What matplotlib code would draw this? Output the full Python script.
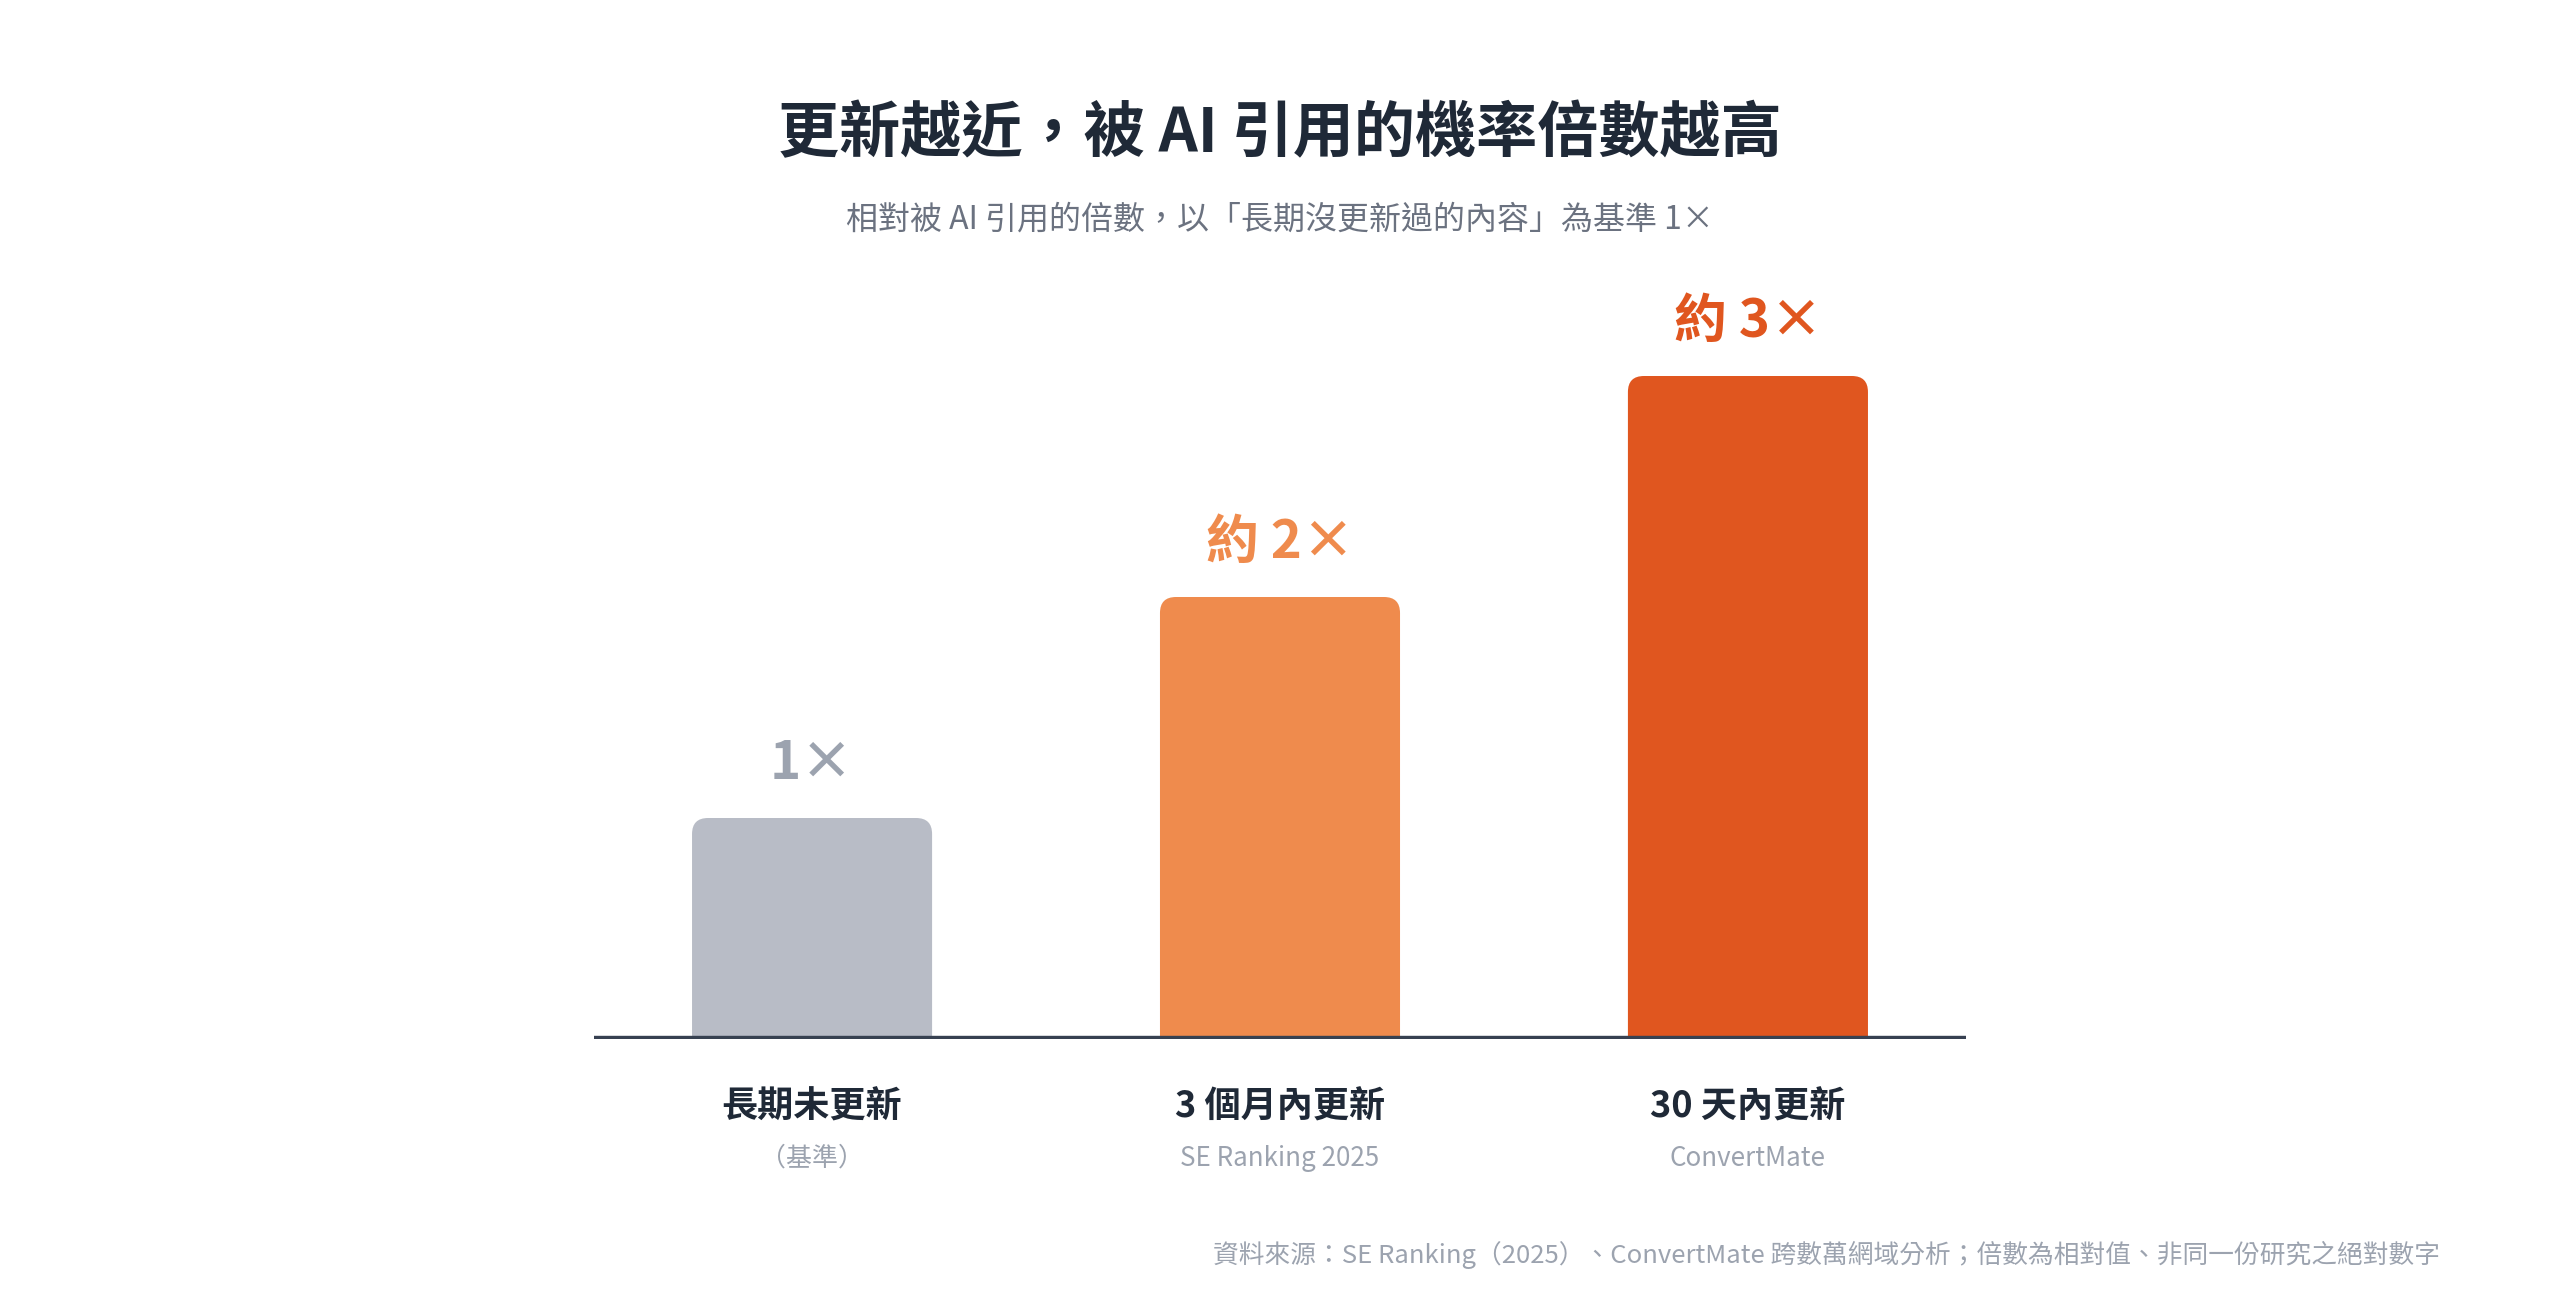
import matplotlib
matplotlib.use("Agg")
import matplotlib.pyplot as plt
from matplotlib.patches import FancyBboxPatch

plt.rcParams['font.family'] = ['Noto Sans CJK TC', 'DejaVu Sans']

# data
categories = ['長期未更新', '3 個月內更新', '30 天內更新']
sources = ['（基準）', 'SE Ranking 2025', 'ConvertMate']
multipliers = [1, 2, 3]
value_labels = ['1×', '約 2×', '約 3×']
bar_colors = ['#B8BCC6', '#EF8B4D', '#E0561F']
label_colors = ['#9CA3AF', '#EF8B4D', '#E0561F']

W, H, DPI = 2560, 1295, 100
fig = plt.figure(figsize=(W / DPI, H / DPI), dpi=DPI)
fig.patch.set_facecolor('white')

# axes placed so the baseline and bars line up with the reference
ax_left, ax_right = 594, 1966
ax_base, ylim_top = 1039, 3.6
px_per_y = 221
ax_h = ylim_top * px_per_y
ax = fig.add_axes([ax_left / W, (H - ax_base) / H, (ax_right - ax_left) / W, ax_h / H])
xlo, xhi = -0.466, 2.466
ax.set_xlim(xlo, xhi)
ax.set_ylim(0, ylim_top)
ax.axis('off')

x = list(range(len(categories)))
bars = ax.bar(x, multipliers, width=0.513, color=bar_colors)

# rounded top corners
px_per_x = (ax_right - ax_left) / (xhi - xlo)
r_px = 16
rx, ry = r_px / px_per_x, r_px / px_per_y
for b in bars:
    x0, w, h = b.get_x(), b.get_width(), b.get_height()
    fc = b.get_facecolor()
    b.set_visible(False)
    p = FancyBboxPatch((x0, -ry), w, h + ry,
                       boxstyle=f"round,pad=0,rounding_size={rx}",
                       mutation_aspect=ry / rx, fc=fc, ec='none', zorder=2)
    ax.add_patch(p)

ax.axhline(0, color='#374151', linewidth=4.6, zorder=3, solid_capstyle='butt')

for i, (v, lab, c) in enumerate(zip(multipliers, value_labels, label_colors)):
    ax.annotate(lab, (i, v), xytext=(0, 39), textcoords='offset points',
                ha='center', va='center', fontsize=38, fontweight='bold',
                color=c, annotation_clip=False)

for i, (cat, src) in enumerate(zip(categories, sources)):
    ax.annotate(cat, (i, 0), xytext=(0, -49), textcoords='offset points',
                ha='center', va='center', fontsize=26, fontweight='bold',
                color='#1F2937', annotation_clip=False)
    ax.annotate(src, (i, 0), xytext=(0, -86), textcoords='offset points',
                ha='center', va='center', fontsize=18.7,
                color='#9CA3AF', annotation_clip=False)

fig.text(0.5, 1 - 134 / H, '更新越近，被 AI 引用的機率倍數越高',
         ha='center', va='center', fontsize=44, fontweight='bold', color='#1F2937')
fig.text(0.5, 1 - 220 / H, '相對被 AI 引用的倍數，以「長期沒更新過的內容」為基準 1×',
         ha='center', va='center', fontsize=23, color='#6B7280')
fig.text(2440 / W, 1 - 1255 / H,
         '資料來源：SE Ranking（2025）、ConvertMate 跨數萬網域分析；倍數為相對值、非同一份研究之絕對數字',
         ha='right', va='center', fontsize=18.5, color='#9CA3AF')

fig.savefig('out.png', dpi=DPI, facecolor='white')
